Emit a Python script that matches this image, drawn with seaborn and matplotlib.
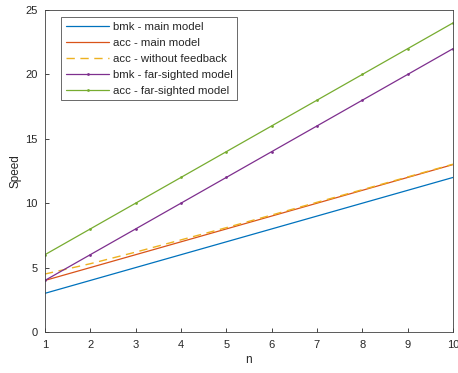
import seaborn as sns
import matplotlib.pyplot as plt
import pandas as pd

n = [1, 2, 3, 4, 5, 6, 7, 8, 9, 10]
bmk_main = [3, 4, 5, 6, 7, 8, 9, 10, 11, 12]
acc_main = [4, 5, 6, 7, 8, 9, 10, 11, 12, 13]
acc_nofb = [4.5, 5.3, 6.2, 7.15, 8.1, 9.08, 10.07, 11.05, 12.04, 13.03]
bmk_far = [4, 6, 8, 10, 12, 14, 16, 18, 20, 22]
acc_far = [6, 8, 10, 12, 14, 16, 18, 20, 22, 24]

sns.set_style("white")
plt.rcParams['font.family'] = ['Liberation Sans', 'DejaVu Sans']

fig = plt.figure(figsize=(4.58, 3.73), dpi=100)
ax = fig.add_axes([0.098, 0.110, 0.891, 0.863])

sns.lineplot(x=n, y=bmk_main, ax=ax, color='#0072BD', lw=0.9, label='bmk - main model')
sns.lineplot(x=n, y=acc_main, ax=ax, color='#D95319', lw=0.9, label='acc - main model')
sns.lineplot(x=n, y=acc_nofb, ax=ax, color='#EDB120', lw=1.0, dashes=(6, 4), label='acc - without feedback')
sns.lineplot(x=n, y=bmk_far, ax=ax, color='#7E2F8E', lw=0.9, marker='.', markersize=4,
             markeredgewidth=0, label='bmk - far-sighted model')
sns.lineplot(x=n, y=acc_far, ax=ax, color='#77AC30', lw=0.9, marker='.', markersize=4,
             markeredgewidth=0, label='acc - far-sighted model')

ax.set_xlim(1, 10)
ax.set_ylim(0, 25)
ax.set_xticks(n)
ax.set_yticks([0, 5, 10, 15, 20, 25])
ax.set_xlabel('n', fontsize=8.5, color='#262626', labelpad=3)
ax.set_ylabel('Speed', fontsize=8.5, color='#262626', labelpad=3)
ax.tick_params(direction='in', length=3, width=0.6, labelsize=8, colors='#262626',
               bottom=True, left=True, top=False, right=False)
ax.tick_params(axis='x', pad=5.5)
ax.tick_params(axis='y', pad=5)
for s in ax.spines.values():
    s.set_color('#404040')
    s.set_linewidth(0.6)

leg = ax.legend(loc='upper left', bbox_to_anchor=(0.04, 0.978), fontsize=8.2, frameon=True,
                fancybox=False, edgecolor='#262626', handlelength=3.8, borderpad=0.42,
                labelspacing=0.52, handletextpad=0.3, borderaxespad=0)
leg.get_frame().set_linewidth(0.6)

fig.savefig('out.png', dpi=100)
